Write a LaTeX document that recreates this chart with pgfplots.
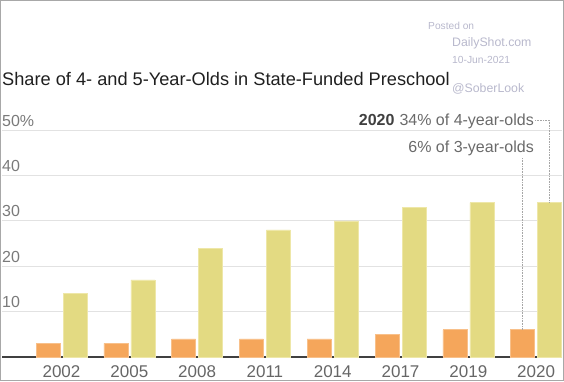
\documentclass[border=0pt]{standalone}
\usepackage{pgfplots}
\pgfplotsset{compat=1.18}
\usepackage{fontspec}
\setmainfont{Liberation Sans}
\definecolor{orbar}{HTML}{F5A65B}
\definecolor{orbord}{HTML}{F8C08A}
\definecolor{yebar}{HTML}{E3DA82}
\definecolor{yebord}{HTML}{EEE7A8}
\definecolor{gridc}{HTML}{E2E2E2}
\definecolor{tickc}{HTML}{7A7A7A}
\definecolor{yearc}{HTML}{666666}
\definecolor{annc}{HTML}{6A6A6A}
\definecolor{wmc}{HTML}{B8B8CC}
\definecolor{borderc}{HTML}{A8A8A8}
\begin{document}
\begin{tikzpicture}[x=1pt,y=1pt]
\useasboundingbox (0,0) rectangle (564,381);
\begin{axis}[
  at={(2pt,24pt)}, anchor=south west,
  scale only axis, width=560pt, height=227pt,
  xmin=-0.8776, xmax=7.382, ymin=0, ymax=50,
  axis x line*=bottom, axis y line*=left,
  x axis line style={draw=black!75, line width=1.3pt, -},
  y axis line style={draw=none},
  ymajorgrids, grid style={draw=gridc, line width=1pt},
  major tick length=0pt,
  ytick={10,20,30,40,50}, yticklabels={10,20,30,40,50\%},
  yticklabel style={anchor=base west, inner sep=0pt, xshift=0pt, yshift=4pt, text=tickc, font=\fontsize{16}{18}\selectfont},
  xtick={0,...,7}, xticklabels={2002,2005,2008,2011,2014,2017,2019,2020},
  xticklabel style={anchor=base, inner sep=0pt, yshift=-20pt, text=yearc, font=\fontsize{17}{19}\selectfont},
  /pgf/number format/assume math mode=true,
  ybar=3pt, bar width=24pt,
  clip=false,
]
\addplot[fill=orbar, draw=orbord, line width=0.6pt] coordinates {(0,3) (1,3) (2,4) (3,4) (4,4) (5,5) (6,6) (7,6)};
\addplot[fill=yebar, draw=yebord, line width=0.6pt] coordinates {(0,14) (1,17) (2,24) (3,28) (4,30) (5,33) (6,34) (7,34)};
\end{axis}
% leader lines
\draw[densely dotted, draw=black!35, line width=0.6pt] (535,261) -- (549.5,261) -- (549.5,178.5);
\draw[densely dotted, draw=black!35, line width=0.6pt] (522.5,223) -- (522.5,51.5);
% annotation
\node[anchor=base east, inner sep=0pt, font=\fontsize{16}{18}\selectfont, text=annc] at (534,256) {{\bfseries\color{black!75}2020}\hspace{5pt}34\% of 4-year-olds};
\node[anchor=base east, inner sep=0pt, font=\fontsize{16}{18}\selectfont, text=annc] at (534,229) {6\% of 3-year-olds};
% title
\node[anchor=base west, inner sep=0pt, font=\fontsize{18.2}{20}\selectfont, text=black!88] at (2,295) {Share of 4- and 5-Year-Olds in State-Funded Preschool};
% watermark
\node[anchor=base west, inner sep=0pt, font=\fontsize{10.2}{12}\selectfont, text=wmc] at (428,351) {Posted on};
\node[anchor=base west, inner sep=0pt, font=\fontsize{12.3}{14}\selectfont, text=wmc] at (452,334) {DailyShot.com};
\node[anchor=base west, inner sep=0pt, font=\fontsize{10.3}{12}\selectfont, text=wmc] at (452,317) {10-Jun-2021};
\node[anchor=base west, inner sep=0pt, font=\fontsize{12.3}{14}\selectfont, text=wmc] at (452,288) {@SoberLook};
% border
\draw[draw=borderc, line width=1.2pt] (0.6,0.6) rectangle (563.4,380.4);
\end{tikzpicture}
\end{document}
